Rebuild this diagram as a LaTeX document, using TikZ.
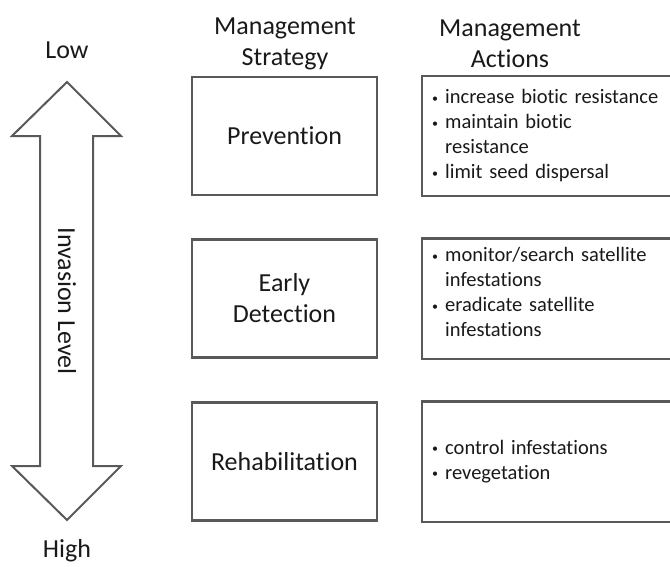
\documentclass[tikz,border=0pt]{standalone}
\usepackage{fontspec}
\setmainfont{Carlito}[Ligatures={NoCommon}]
\begin{document}
\begin{tikzpicture}[x=1pt,y=-1pt,
  border/.style={draw=black!65,line width=2.2pt},
  big/.style={font=\fontsize{26}{31}\selectfont,text=black!90,align=center},
  stratbox/.style={border,big,minimum width=185pt,minimum height=118pt,inner sep=0pt},
  actbox/.style={font=\fontsize{20.5}{25}\selectfont,text=black!90,align=left,
     inner sep=0pt,anchor=west,text width=240pt},
  arrowshape/.style={draw=black!65,line width=2pt,line join=miter,fill=white}
]
\useasboundingbox (0,0) rectangle (670,566);
% headers
\node[big] (hlow) at (67,50) {Low};
\node[big] (hhigh) at (67,551) {High};
\node[big] (hstrat) at (285,44) {Management\\Strategy};
\node[big] (hact) at (510,44) {Management\\Actions};
% double arrow
\draw[arrowshape] (67,82) -- (121,136) -- (93,136) -- (93,466) -- (121,466)
  -- (67,520) -- (12,466) -- (40,466) -- (40,136) -- (12,136) -- cycle;
\node[big,rotate=-90] (inv) at (67,301) {Invasion Level};
% strategy boxes
\node[stratbox] (s1) at (284.5,136) {Prevention};
\node[stratbox] (s2) at (284.5,298.5) {Early\\Detection};
\node[stratbox] (s3) at (284.5,461.5) {Rehabilitation};
% action boxes
\newcommand{\bul}{\makebox[13pt][l]{\raisebox{1.5pt}{\fontsize{12}{12}\selectfont\textbullet}}}
\newcommand{\ind}{\hspace*{13pt}}
\node[actbox] (a1) at (432,136) {\bul increase biotic resistance\\\bul maintain biotic\\\ind resistance\\\bul limit seed dispersal};
\node[actbox] (a2) at (432,292) {\bul monitor/search satellite\\\ind infestations\\\bul eradicate satellite\\\ind infestations};
\node[actbox] (a3) at (432,461.5) {\bul control infestations\\\bul revegetation};
\draw[border] (s1.north -| 680,0) -- (s1.north -| 422,0) -- (s1.south -| 422,0) -- (s1.south -| 680,0);
\draw[border] (s2.north -| 680,0) -- (s2.north -| 422,0) -- (s2.south -| 422,0) -- (s2.south -| 680,0);
\draw[border] (s3.north -| 680,0) -- (s3.north -| 422,0) -- (s3.south -| 422,0) -- (s3.south -| 680,0);
\end{tikzpicture}
\end{document}
